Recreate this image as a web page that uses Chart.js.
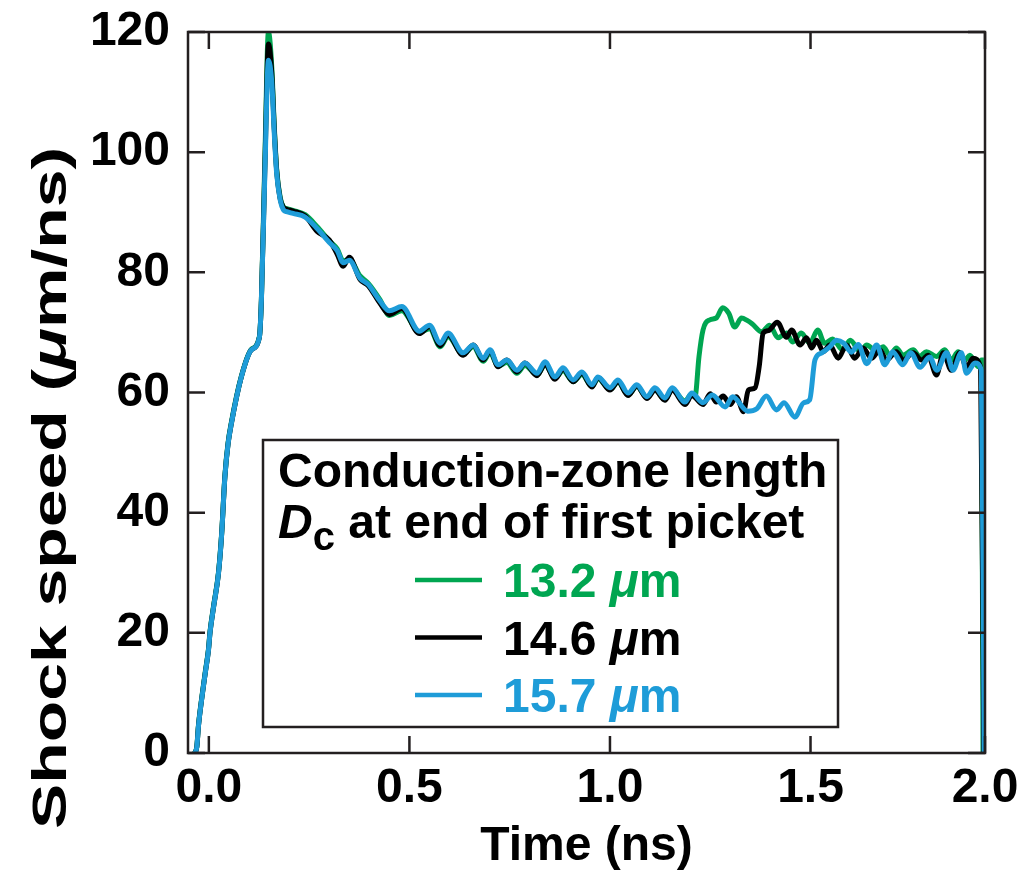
<!DOCTYPE html>
<html>
<head>
<meta charset="utf-8">
<script src="https://cdn.jsdelivr.net/npm/chart.js@4.4.1/dist/chart.umd.min.js"></script>
<style>
  html, body { margin: 0; padding: 0; background: #fff; }
  #wrap { width: 1023px; height: 872px; position: relative; }
</style>
</head>
<body>
<div id="wrap"><canvas id="shockChart"></canvas></div>
<script>
// time grid shared by all three runs up to ~1.2 ns
var sharedTime = [-0.035, -0.030, -0.026, -0.017, -0.009, -0.001, 0.003, 0.012, 0.024, 0.032,
  0.040, 0.048, 0.056, 0.081, 0.106, 0.126, 0.131, 0.140, 0.1485, 0.157,
  0.163, 0.169, 0.178, 0.186, 0.194, 0.21, 0.24, 0.27, 0.30, 0.32,
  0.335, 0.35, 0.377, 0.397, 0.427, 0.45, 0.481, 0.525, 0.550, 0.577,
  0.596, 0.634, 0.659, 0.684, 0.701, 0.721, 0.743, 0.768, 0.788, 0.818,
  0.838, 0.863, 0.883, 0.908, 0.930, 0.955, 0.970, 1.000, 1.020, 1.045,
  1.067, 1.092, 1.112, 1.137, 1.155, 1.187, 1.204];

var greenEarly = [0, 1.1, 4.6, 9.6, 13.5, 17.3, 20.3, 24.6, 30.1, 36.7,
  46.2, 51.7, 55.0, 62.7, 67.2, 69.3, 75.6, 100, 120, 114,
  104.5, 97.2, 92.4, 90.9, 90.6, 90.3, 89.6, 87.6, 85.3, 83.9,
  81.9, 82.2, 79.4, 78.2, 75.4, 72.8, 73.6, 70.0, 70.6, 67.6,
  69.3, 66.3, 67.6, 65.2, 66.6, 64.4, 65.0, 63.2, 64.5, 62.9,
  64.6, 62.4, 63.6, 61.8, 63.0, 61.0, 62.3, 60.5, 61.7, 59.6,
  61.0, 59.2, 60.4, 58.8, 60.5, 58.6, 59.8];
var blackEarly = [0, 1.0, 4.4, 9.4, 13.3, 17.1, 20.1, 24.4, 29.9, 36.5,
  46.0, 51.5, 54.8, 62.6, 67.1, 69.2, 75.4, 98.5, 118.0, 113.0,
  104.0, 97.0, 92.2, 90.8, 90.5, 90.2, 89.4, 86.8, 85.4, 83.0,
  81.0, 82.5, 78.8, 77.8, 74.8, 73.0, 74.0, 69.8, 71.0, 67.8,
  69.6, 66.2, 67.9, 65.4, 67.0, 64.3, 65.4, 63.4, 64.9, 62.8,
  64.7, 62.2, 63.9, 61.8, 63.2, 60.9, 62.5, 60.4, 61.8, 59.5,
  61.1, 59.0, 60.4, 58.7, 60.4, 58.0, 59.5];
var blueEarly = [0, 1.0, 4.4, 9.4, 13.3, 17.1, 20.1, 24.4, 29.9, 36.5,
  46.0, 51.5, 54.8, 62.6, 67.1, 69.2, 75.4, 97.5, 115.3, 111.5,
  103.2, 96.5, 92, 90.4, 90.1, 89.8, 89.2, 87.3, 85.0, 83.6,
  81.6, 82.0, 79.0, 78.0, 75.2, 73.6, 74.3, 70.2, 71.2, 68.2,
  69.9, 66.6, 67.9, 65.7, 67.1, 64.6, 65.4, 63.7, 64.9, 63.2,
  65.1, 62.6, 64.1, 62.1, 63.4, 61.3, 62.6, 60.8, 62.1, 59.9,
  61.3, 59.3, 60.8, 59.1, 60.8, 58.4, 59.9];

// after ~1.2 ns the runs split (second shock arrives at different times)
var greenTailTime = [1.212, 1.222, 1.232, 1.249, 1.265, 1.281, 1.296, 1.311, 1.328, 1.342,
  1.355, 1.378, 1.398, 1.419, 1.44, 1.455, 1.477, 1.498, 1.518, 1.535,
  1.555, 1.58, 1.599, 1.624, 1.64, 1.665, 1.681, 1.698, 1.714, 1.731,
  1.756, 1.772, 1.789, 1.814, 1.835, 1.851, 1.868, 1.885, 1.897, 1.918,
  1.926, 1.930];
var greenTailSpeed = [59.3, 66.0, 70.4, 72.1, 72.4, 74.1, 73.2, 70.9, 72.4, 72.0,
  71.4, 70.1, 71.2, 69.1, 69.9, 68.4, 69.9, 68.2, 70.4, 68.2,
  68.9, 67.1, 68.7, 66.8, 67.9, 66.8, 67.6, 66.2, 67.4, 66.2,
  67.1, 66.0, 66.8, 66.0, 67.1, 65.4, 66.8, 65.4, 66.2, 64.3,
  65.4, 0];

var blackTailTime = [1.232, 1.25, 1.265, 1.282, 1.30, 1.315, 1.333, 1.345, 1.362, 1.372,
  1.382, 1.395, 1.417, 1.44, 1.453, 1.474, 1.49, 1.503, 1.515, 1.532,
  1.548, 1.569, 1.59, 1.61, 1.631, 1.652, 1.673, 1.689, 1.714, 1.731,
  1.756, 1.777, 1.793, 1.814, 1.831, 1.851, 1.872, 1.889, 1.905, 1.924,
  1.932];
var blackTailSpeed = [58.0, 59.8, 58.4, 59.4, 58.0, 59.3, 56.8, 60.4, 60.8, 64.3,
  69.9, 70.3, 71.7, 69.2, 70.4, 67.9, 69.1, 67.4, 68.7, 66.8,
  67.9, 65.7, 67.9, 65.7, 67.4, 65.7, 67.1, 65.4, 66.8, 65.4,
  66.6, 65.4, 66.2, 62.9, 66.6, 63.7, 66.6, 64.2, 65.7, 64.2,
  0];

var blueTailTime = [1.232, 1.255, 1.287, 1.306, 1.343, 1.366, 1.39, 1.415, 1.434, 1.461,
  1.483, 1.498, 1.511, 1.528, 1.548, 1.565, 1.583, 1.602, 1.619, 1.640,
  1.665, 1.685, 1.705, 1.73, 1.75, 1.773, 1.797, 1.815, 1.839, 1.855,
  1.876, 1.889, 1.910, 1.926, 1.933];
var blueTailSpeed = [58.3, 59.6, 57.6, 59.3, 56.9, 57.3, 59.4, 57.1, 58.3, 55.9,
  58.3, 58.8, 65.4, 66.6, 67.6, 68.7, 68.2, 66.7, 68.0, 64.8,
  67.9, 64.6, 66.8, 64.6, 66.6, 64.2, 65.9, 63.7, 66.6, 63.7,
  66.6, 63.2, 64.9, 63.7, 0];

var runLabels = ['13.2', '14.6', '15.7'];
var runColors = ['#00a651', '#000000', '#1e9cd8'];

var xTickValues = [0, 0.5, 1.0, 1.5, 1.935];
var xTickLabels = ['0.0', '0.5', '1.0', '1.5', '2.0'];

var FONT = '"Liberation Sans", Arial, Helvetica, sans-serif';
var AXIS = '#231f20';

function toPoints(t1, v1, t2, v2) {
  var pts = [];
  for (var i = 0; i < t1.length; i++) pts.push({x: t1[i], y: v1[i]});
  for (var j = 0; j < t2.length; j++) pts.push({x: t2[j], y: v2[j]});
  return pts;
}

var series = [
  toPoints(sharedTime, greenEarly, greenTailTime, greenTailSpeed),
  toPoints(sharedTime, blackEarly, blackTailTime, blackTailSpeed),
  toPoints(sharedTime, blueEarly, blueTailTime, blueTailSpeed)
];

// frame box + inward ticks on all four sides
var frameTicks = {
  id: 'frameTicks',
  afterDatasetsDraw: function(chart) {
    var ctx = chart.ctx, a = chart.chartArea;
    var x = chart.scales.x, y = chart.scales.y;
    var len = 17;
    ctx.save();
    ctx.strokeStyle = AXIS;
    ctx.lineWidth = 2.5;
    ctx.beginPath();
    xTickValues.forEach(function(v) {
      var px = x.getPixelForValue(v);
      ctx.moveTo(px, a.bottom); ctx.lineTo(px, a.bottom - len);
      ctx.moveTo(px, a.top); ctx.lineTo(px, a.top + len);
    });
    y.ticks.forEach(function(t) {
      var py = y.getPixelForValue(t.value);
      ctx.moveTo(a.left, py); ctx.lineTo(a.left + len, py);
      ctx.moveTo(a.right, py); ctx.lineTo(a.right - len, py);
    });
    ctx.stroke();
    ctx.strokeRect(a.left, a.top, a.right - a.left, a.bottom - a.top);
    ctx.restore();
  }
};

function drawRuns(ctx, x, y, parts) {
  // parts: [text, fontStyle, size, dy]
  parts.forEach(function(p) {
    ctx.font = p[1] + ' ' + p[2] + 'px ' + FONT;
    ctx.fillText(p[0], x, y + (p[3] || 0));
    x += ctx.measureText(p[0]).width;
  });
  return x;
}

// axis titles and the boxed legend
var annotations = {
  id: 'annotations',
  afterDraw: function(chart) {
    var ctx = chart.ctx, a = chart.chartArea;
    ctx.save();
    ctx.fillStyle = '#000';
    ctx.textBaseline = 'alphabetic';

    // x title
    ctx.font = 'bold 48px ' + FONT;
    ctx.textAlign = 'center';
    ctx.fillText('Time (ns)', (a.left + a.right) / 2, 860);
    ctx.textAlign = 'left';

    // y title, rotated, with italic mu; the original is drawn stretched along its length
    var yParts = [['Shock speed (', 'bold', 48], ['\u03bc', 'italic bold', 48], ['m/ns)', 'bold', 48]];
    var total = 0;
    yParts.forEach(function(p) { ctx.font = p[1] + ' 48px ' + FONT; total += ctx.measureText(p[0]).width; });
    var span = 682;
    ctx.save();
    ctx.translate(66, 488);
    ctx.rotate(-Math.PI / 2);
    ctx.scale(span / total, 1);
    drawRuns(ctx, -total / 2, 0, yParts);
    ctx.restore();

    // legend box
    var bx = a.left + 75, by = a.top + 408, bw = 575, bh = 287;
    ctx.fillStyle = '#fff';
    ctx.fillRect(bx, by, bw, bh);
    ctx.strokeStyle = AXIS;
    ctx.lineWidth = 2.5;
    ctx.strokeRect(bx, by, bw, bh);

    ctx.fillStyle = '#000';
    ctx.font = 'bold 48px ' + FONT;
    ctx.fillText('Conduction-zone length', bx + 15, by + 47);
    drawRuns(ctx, bx + 15, by + 98, [
      ['D', 'italic bold', 48],
      ['c', 'bold', 40, 12],
      [' at end of first picket', 'bold', 48]
    ]);

    for (var i = 0; i < runLabels.length; i++) {
      var ly = by + 140 + i * 57.5;
      ctx.strokeStyle = runColors[i];
      ctx.lineWidth = 4.5;
      ctx.beginPath();
      ctx.moveTo(bx + 152, ly);
      ctx.lineTo(bx + 219, ly);
      ctx.stroke();
      ctx.fillStyle = runColors[i];
      drawRuns(ctx, bx + 240, ly + 17, [
        [runLabels[i] + ' ', 'bold', 48],
        ['\u03bc', 'italic bold', 48],
        ['m', 'bold', 48]
      ]);
    }
    ctx.restore();
  }
};

var ctx = document.getElementById('shockChart').getContext('2d');
var shockChart = new Chart(ctx, {
  type: 'scatter',
  data: {
    datasets: runLabels.map(function(lbl, i) {
      return {
        label: lbl + ' \u03bcm',
        data: series[i],
        showLine: true,
        borderColor: runColors[i],
        backgroundColor: runColors[i],
        borderWidth: 5,
        pointRadius: 0,
        cubicInterpolationMode: 'monotone',
        order: 3 - i
      };
    })
  },
  options: {
    responsive: true,
    maintainAspectRatio: false,
    animation: false,
    devicePixelRatio: 1,
    layout: { padding: { left: 0, top: 32, right: 38, bottom: 0 } },
    plugins: {
      legend: { display: false },
      tooltip: { enabled: false }
    },
    scales: {
      x: {
        type: 'linear',
        min: -0.052,
        max: 1.935,
        afterBuildTicks: function(scale) {
          scale.ticks = xTickValues.map(function(v) { return {value: v}; });
        },
        afterFit: function(scale) {
          scale.height = 119;
          scale.paddingLeft = 0;
          scale.paddingRight = 0;
        },
        grid: { display: false, drawTicks: false },
        border: { display: false },
        ticks: {
          autoSkip: false,
          maxRotation: 0,
          padding: 7,
          color: '#000',
          font: { family: FONT, size: 48, weight: 'bold' },
          callback: function(v, i) { return xTickLabels[i]; }
        }
      },
      y: {
        min: 0,
        max: 120,
        afterFit: function(scale) {
          scale.width = 188;
          scale.paddingTop = 0;
          scale.paddingBottom = 0;
        },
        grid: { display: false, drawTicks: false },
        border: { display: false },
        ticks: {
          stepSize: 20,
          padding: 18,
          color: '#000',
          font: { family: FONT, size: 48, weight: 'bold' }
        }
      }
    }
  },
  plugins: [frameTicks, annotations]
});
</script>
</body>
</html>
